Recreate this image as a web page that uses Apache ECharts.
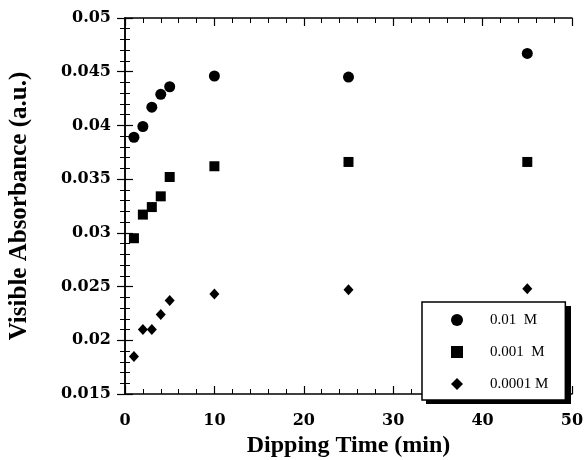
<!DOCTYPE html>
<html><head><meta charset="utf-8">
<script src="https://cdn.jsdelivr.net/npm/echarts@6/dist/echarts.min.js"></script>
<style>html,body{margin:0;padding:0;background:#fff}#c{width:584px;height:460px}</style>
</head><body><div id="c"></div>
<script>
const times = [1, 2, 3, 4, 5, 10, 25, 45];
const seriesNames = ['0.01  M', '0.001  M', '0.0001 M'];
const abs001 = [0.0389, 0.0399, 0.0417, 0.0429, 0.0436, 0.0446, 0.0445, 0.0467];
const abs0001 = [0.0295, 0.0317, 0.0324, 0.0334, 0.0352, 0.0362, 0.0366, 0.0366];
const abs00001 = [0.0185, 0.0210, 0.0210, 0.0224, 0.0237, 0.0243, 0.0247, 0.0248];
const yTicks = ['0.015', '0.02', '0.025', '0.03', '0.035', '0.04', '0.045', '0.05'];

const pair = arr => times.map((t, i) => [t, arr[i]]);
const font = '"Liberation Serif", "Times New Roman", serif';
const tickFont = '"DejaVu Serif", "Liberation Serif", serif';
const chart = echarts.init(document.getElementById('c'));
const axisCommon = {
  axisLine: {show: true, lineStyle: {color: '#000', width: 1.5}},
  axisTick: {show: true, inside: true, length: 8, lineStyle: {color: '#000', width: 1.2}},
  minorTick: {show: true, splitNumber: 5, length: 5, lineStyle: {color: '#000', width: 1}},
  splitLine: {show: false}
};
chart.setOption({
  animation: false,
  grid: {left: 125, right: 12, top: 18, bottom: 66, containLabel: false, outerBoundsMode: 'none'},
  graphic: [
    {type: 'rect', left: 426, top: 306, shape: {width: 145, height: 98}, style: {fill: '#000'}, z: 0}
  ],
  xAxis: [
    Object.assign({type: 'value', min: 0, max: 50, interval: 10, position: 'bottom',
      name: 'Dipping Time (min)', nameLocation: 'middle', nameGap: 40,
      nameTextStyle: {fontFamily: font, fontWeight: 'bold', fontSize: 24, color: '#000'},
      axisLabel: {fontFamily: tickFont, fontWeight: 'bold', fontSize: 16, color: '#000', margin: 19}}, axisCommon),
    Object.assign({type: 'value', min: 0, max: 50, interval: 10, position: 'top',
      axisLabel: {show: false}}, axisCommon)
  ],
  yAxis: [
    Object.assign({type: 'value', min: 0.015, max: 0.05, interval: 0.005, position: 'left',
      name: 'Visible Absorbance (a.u.)', nameLocation: 'middle', nameGap: 93,
      nameTextStyle: {fontFamily: font, fontWeight: 'bold', fontSize: 25, color: '#000'},
      axisLabel: {fontFamily: tickFont, fontWeight: 'bold', fontSize: 16, color: '#000', margin: 14,
        formatter: v => { const i = Math.round((v - 0.015) / 0.005); return yTicks[i] !== undefined ? yTicks[i] : ''; }}}, axisCommon),
    Object.assign({type: 'value', min: 0.015, max: 0.05, interval: 0.005, position: 'right',
      axisLabel: {show: false}}, axisCommon)
  ],
  legend: {
    orient: 'vertical', left: 422, top: 302, z: 5,
    padding: [9, 17, 7, 29], itemGap: 14, itemWidth: 12, itemHeight: 12,
    backgroundColor: '#fff', borderColor: '#000', borderWidth: 1.5, borderRadius: 0,
    textStyle: {fontFamily: font, fontSize: 15, lineHeight: 18, color: '#000', padding: [0, 0, 0, 22]},
    data: seriesNames
  },
  series: [
    {name: seriesNames[0], type: 'scatter', symbol: 'circle', symbolSize: 11, itemStyle: {color: '#000', opacity: 1}, data: pair(abs001)},
    {name: seriesNames[1], type: 'scatter', symbol: 'rect', symbolSize: 10, itemStyle: {color: '#000', opacity: 1}, data: pair(abs0001)},
    {name: seriesNames[2], type: 'scatter', symbol: 'diamond', symbolSize: [10, 11], itemStyle: {color: '#000', opacity: 1}, data: pair(abs00001)}
  ]
});
</script></body></html>
